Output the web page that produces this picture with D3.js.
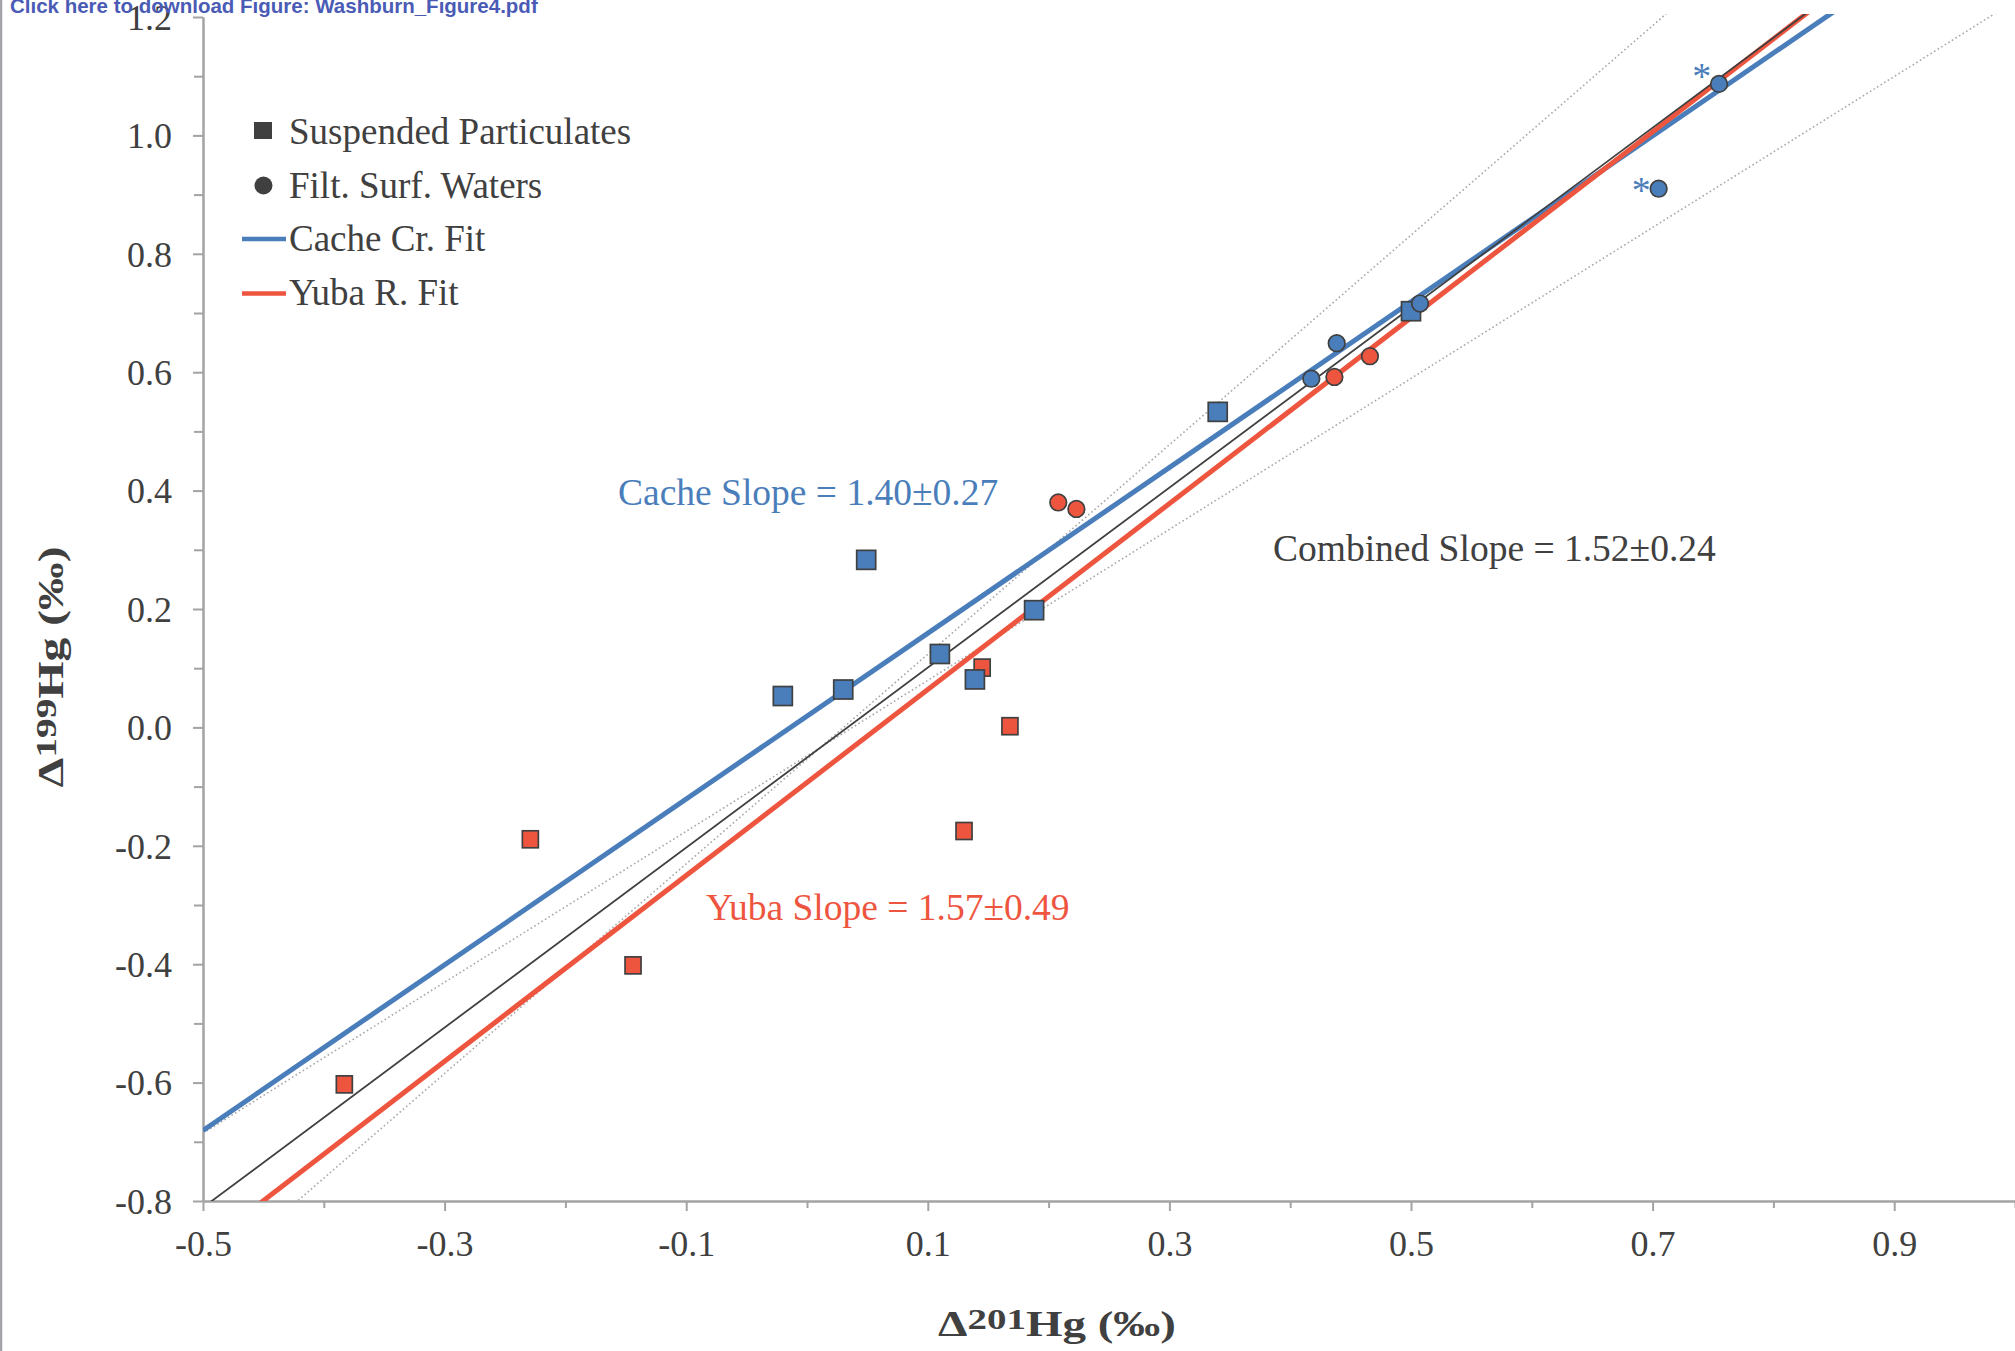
<!DOCTYPE html>
<html>
<head>
<meta charset="utf-8">
<script src="https://cdn.jsdelivr.net/npm/d3@7"></script>
<style>
  body { margin: 0; background: #fff; }
  svg { display: block; }
</style>
</head>
<body>
<svg id="chart" width="2015" height="1351"></svg>
<script>
// ---- values: [D201Hg, D199Hg] ----
var cacheParticulates = [[-0.020, 0.053], [0.030, 0.064], [0.049, 0.283], [0.110, 0.124], [0.139, 0.081], [0.188, 0.198], [0.340, 0.533], [0.500, 0.703]];
var cacheWaters = [[0.4175, 0.589], [0.4385, 0.649], [0.5075, 0.716], [0.705, 0.910], [0.755, 1.087]];
var yubaParticulates = [[-0.383, -0.603], [-0.229, -0.189], [-0.144, -0.402], [0.130, -0.175], [0.145, 0.101], [0.168, 0.002]];
var yubaWaters = [[0.208, 0.380], [0.223, 0.369], [0.4366, 0.592], [0.466, 0.627]];
// the two starred Cache water samples (asterisk centres)
var asterisks = [[0.7406, 1.109], [0.6907, 0.916]];

// fit lines  y = slope * x + intercept
var fitNames = ["Cache", "Yuba", "Combined"];
var fitSlopes = [1.40, 1.57, 1.52];
var fitIntercepts = [0.019, -0.093, -0.051];
// combined slope +/- error, both lines turn around one point
var envSlopes = [1.77, 1.275];
var envPivot = [0.011, -0.034];

var xMajor = [-0.5, -0.3, -0.1, 0.1, 0.3, 0.5, 0.7, 0.9];
var xMinor = [-0.4, -0.2, 0, 0.2, 0.4, 0.6, 0.8, 1.0];
var xTickLabels = ["-0.5", "-0.3", "-0.1", "0.1", "0.3", "0.5", "0.7", "0.9"];
var yMajor = [-0.8, -0.6, -0.4, -0.2, 0, 0.2, 0.4, 0.6, 0.8, 1.0, 1.2];
var yMinor = [-0.7, -0.5, -0.3, -0.1, 0.1, 0.3, 0.5, 0.7, 0.9, 1.1];
var yTickLabels = ["-0.8", "-0.6", "-0.4", "-0.2", "0.0", "0.2", "0.4", "0.6", "0.8", "1.0", "1.2"];

var legendLabels = ["Suspended Particulates", "Filt. Surf. Waters", "Cache Cr. Fit", "Yuba R. Fit"];
var slopeNotes = ["Cache Slope = 1.40±0.27", "Yuba Slope = 1.57±0.49", "Combined Slope = 1.52±0.24"];

var BLUE = "#4a7ebb", RED = "#ee553f", DARK = "#404040", AXIS = "#a3a3a3";
var SERIF = "'Liberation Serif', 'Times New Roman', serif";

var svg = d3.select("#chart");
var x = d3.scaleLinear().domain([-0.5, 1.0]).range([203, 2015]);
var y = d3.scaleLinear().domain([-0.8, 1.2]).range([1201, 17]);

// page edge line on the left
svg.append("line").attr("x1", 1).attr("x2", 1).attr("y1", 0).attr("y2", 1351)
  .style("stroke", "#a3a3a8").style("stroke-width", 2.5);

svg.append("defs").append("clipPath").attr("id", "plotclip")
  .append("rect").attr("x", 203).attr("y", 14).attr("width", 1812).attr("height", 1187);

/** Axes **/
function styleAxis(g) {
  g.selectAll("path, line").style("stroke", AXIS).style("stroke-width", 2);
  g.selectAll("text").style("font-family", SERIF).style("font-size", "36px").style("fill", DARK);
}
var xAxisG = svg.append("g").attr("transform", "translate(0,1201)");
xAxisG.append("g").call(d3.axisBottom(x).tickValues(xMinor).tickSize(7).tickSizeOuter(0).tickFormat(""))
  .call(styleAxis);
xAxisG.append("g").call(d3.axisBottom(x).tickValues(xMajor).tickSize(10).tickSizeOuter(0)
    .tickFormat(function(d, i) { return xTickLabels[i]; }))
  .call(styleAxis)
  .selectAll("text").attr("y", 55).attr("dy", 0);

var yAxisG = svg.append("g").attr("transform", "translate(203,0)");
yAxisG.append("g").call(d3.axisLeft(y).tickValues(yMinor).tickSize(9).tickSizeOuter(0).tickFormat(""))
  .call(styleAxis);
yAxisG.append("g").call(d3.axisLeft(y).tickValues(yMajor).tickSize(10).tickSizeOuter(0)
    .tickFormat(function(d, i) { return yTickLabels[i]; }))
  .call(styleAxis)
  .selectAll("text").attr("x", -31).attr("dy", "0.34em");

/** Lines **/
var plot = svg.append("g").attr("clip-path", "url(#plotclip)");
var xEnds = x.domain();

// dotted slope-error lines
envSlopes.forEach(function(s) {
  plot.append("line")
    .attr("x1", x(xEnds[0])).attr("y1", y(envPivot[1] + s * (xEnds[0] - envPivot[0])))
    .attr("x2", x(xEnds[1])).attr("y2", y(envPivot[1] + s * (xEnds[1] - envPivot[0])))
    .style("stroke", "#a8a8a8").style("stroke-width", 1.6)
    .style("stroke-dasharray", "1.6,2.6");
});

var fitColour = [BLUE, RED, DARK];
var fitWidth = [5, 5, 1.8];
fitNames.forEach(function(name, i) {
  plot.append("line")
    .attr("class", "fit-" + name)
    .attr("x1", x(xEnds[0])).attr("y1", y(fitSlopes[i] * xEnds[0] + fitIntercepts[i]))
    .attr("x2", x(xEnds[1])).attr("y2", y(fitSlopes[i] * xEnds[1] + fitIntercepts[i]))
    .style("stroke", fitColour[i]).style("stroke-width", fitWidth[i]);
});

/** Points **/
function squares(data, colour, w, h) {
  svg.append("g").selectAll("rect").data(data).enter().append("rect")
    .attr("x", function(d) { return x(d[0]) - w / 2; })
    .attr("y", function(d) { return y(d[1]) - h / 2; })
    .attr("width", w).attr("height", h)
    .style("fill", colour).style("stroke", DARK).style("stroke-width", 1.7);
}
function circles(data, colour) {
  svg.append("g").selectAll("circle").data(data).enter().append("circle")
    .attr("cx", function(d) { return x(d[0]); })
    .attr("cy", function(d) { return y(d[1]); })
    .attr("r", 8.3)
    .style("fill", colour).style("stroke", DARK).style("stroke-width", 1.7);
}
squares(yubaParticulates, RED, 16, 17);
squares(cacheParticulates, BLUE, 19, 19);
circles(cacheWaters, BLUE);
circles(yubaWaters, RED);

svg.append("g").selectAll("text").data(asterisks).enter().append("text")
  .attr("x", function(d) { return x(d[0]); })
  .attr("y", function(d) { return y(d[1]) + 18; })
  .attr("text-anchor", "middle")
  .style("font-family", SERIF).style("font-size", "38px").style("fill", BLUE)
  .text("*");

/** Slope notes **/
var noteX = [618, 706, 1273], noteY = [505, 920, 561], noteCol = [BLUE, RED, DARK];
slopeNotes.forEach(function(t, i) {
  svg.append("text").attr("x", noteX[i]).attr("y", noteY[i])
    .style("font-family", SERIF).style("font-size", "37.5px").style("fill", noteCol[i])
    .text(t);
});

/** Legend **/
var leg = svg.append("g");
leg.append("rect").attr("x", 254).attr("y", 122).attr("width", 18).attr("height", 17).style("fill", DARK);
leg.append("circle").attr("cx", 263.5).attr("cy", 185.5).attr("r", 9).style("fill", DARK);
leg.append("line").attr("x1", 242).attr("x2", 286).attr("y1", 239).attr("y2", 239)
  .style("stroke", BLUE).style("stroke-width", 4.5);
leg.append("line").attr("x1", 242).attr("x2", 286).attr("y1", 293.5).attr("y2", 293.5)
  .style("stroke", RED).style("stroke-width", 4.5);
leg.selectAll("text").data(legendLabels).enter().append("text")
  .attr("x", 289)
  .attr("y", function(d, i) { return 144 + i * 53.5; })
  .style("font-family", SERIF).style("font-size", "37px").style("fill", DARK)
  .text(function(d) { return d; });

/** Axis titles (stretched along the baseline like the original) **/
function axisTitle(g, iso, targetW) {
  var t = g.append("text").attr("text-anchor", "middle")
    .style("font-family", SERIF).style("font-weight", "bold").style("fill", DARK)
    .style("font-size", "35px");
  t.append("tspan").text("Δ");
  t.append("tspan").attr("dy", -7).style("font-size", "29px").text(iso);
  t.append("tspan").attr("dy", 7).text("Hg (‰)");
  var w = t.node().getBBox().width;
  t.attr("transform", "scale(" + (targetW / w) + ",1)");
}
axisTitle(svg.append("g").attr("transform", "translate(1057,1336)"), "201", 238);
axisTitle(svg.append("g").attr("transform", "translate(63,667) rotate(-90)"), "199", 241);

// download link text at the top of the page
svg.append("text").attr("x", 10).attr("y", 13)
  .style("font-family", "'Liberation Sans', Arial, sans-serif").style("font-weight", "bold")
  .style("font-size", "20.5px").style("fill", "#4a5bb5")
  .text("Click here to download Figure: Washburn_Figure4.pdf");
</script>
</body>
</html>
